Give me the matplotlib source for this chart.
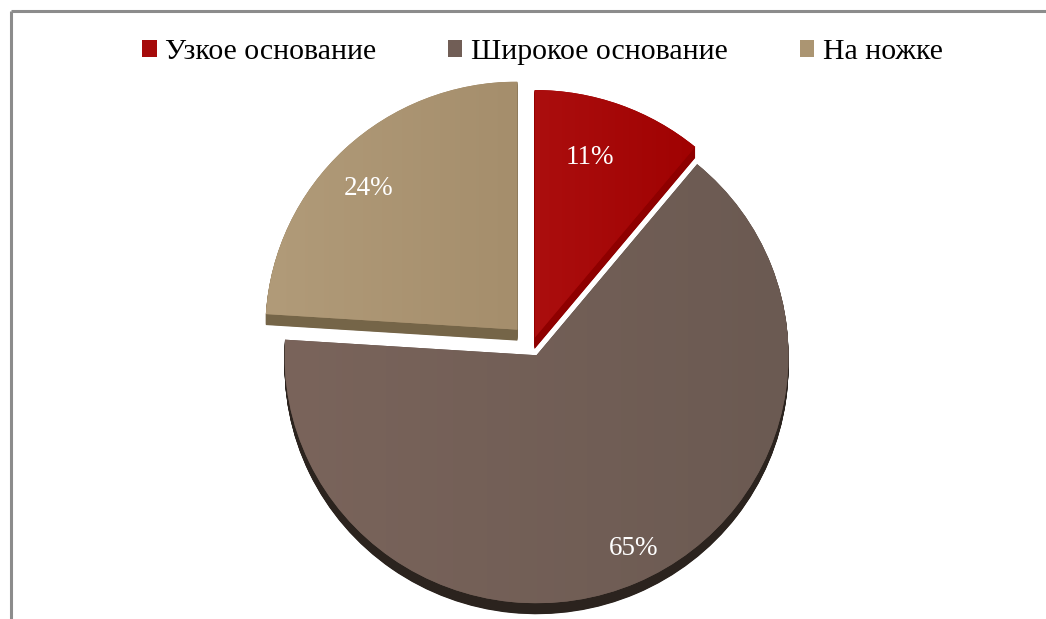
import numpy as np
import matplotlib
matplotlib.use("Agg")
import matplotlib.pyplot as plt
from matplotlib.patches import Wedge, Patch
from matplotlib.transforms import Affine2D
from matplotlib.colors import LinearSegmentedColormap

# Pie data
categories = ["Узкое основание", "Широкое основание", "На ножке"]
shares = [11, 65, 24]
labels = ["11%", "65%", "24%"]

# Face colours (left / right end of the shading) and side wall colours
face_left = ["#ab0e0e", "#7a645b", "#b19b79"]
face_right = ["#a00202", "#6b5a52", "#a58e6c"]
legend_colors = ["#a50a0a", "#715e56", "#ab9572"]
side_colors = ["#8e0000", "#2b231e", "#756548"]
explode = [0.03, 0.045, 0.085]
label_dist = [0.76, 0.87, 0.82]

W, H = 1046, 619
plt.rcParams["font.family"] = ["Liberation Serif", "DejaVu Serif"]

fig = plt.figure(figsize=(W / 100, H / 100), dpi=100)
ax = fig.add_axes([0, 0, 1, 1])

# pixel-space ellipse for the pie: x = cx + rx*u, y = cy - ry*v
cx, cy, rx, ry = 532, 345, 252, 248
depth = 11
base = Affine2D(np.array([[rx, 0, cx], [0, -ry, cy], [0, 0, 1.0]]))

# wedge angles, clockwise from 12 o'clock
angles = 360 * np.array(shares) / np.sum(shares)
ends = 90 - np.concatenate([[0], np.cumsum(angles)[:-1]])
starts = ends - angles
mids = np.radians((starts + ends) / 2)

offsets = []
for i in range(len(shares)):
    dx = explode[i] * np.cos(mids[i])
    dy = explode[i] * np.sin(mids[i])
    offsets.append(Affine2D().translate(dx, dy) + base)

# side walls: stacked copies pushed downwards
for i in range(len(shares)):
    for d in np.arange(depth, 0, -0.5):
        w = Wedge((0, 0), 1, starts[i], ends[i], facecolor=side_colors[i],
                  edgecolor="none",
                  transform=offsets[i] + Affine2D().translate(0, d) + ax.transData)
        ax.add_patch(w)

# top faces with a soft left-to-right shading
grad = np.linspace(0, 1, 256).reshape(1, -1)
for i in range(len(shares)):
    w = Wedge((0, 0), 1, starts[i], ends[i], facecolor=face_right[i],
              edgecolor="none", transform=offsets[i] + ax.transData)
    ax.add_patch(w)
    ext = w.get_path().transformed(offsets[i]).get_extents()
    cmap = LinearSegmentedColormap.from_list("f%d" % i, [face_left[i], face_right[i]])
    im = ax.imshow(grad, cmap=cmap, aspect="auto", interpolation="bilinear",
                   extent=(ext.x0, ext.x1, ext.y1, ext.y0), zorder=1)
    im.set_clip_path(w)

# percentage labels
for i in range(len(shares)):
    a = mids[i] + np.radians(3)
    px, py = offsets[i].transform((label_dist[i] * np.cos(a), label_dist[i] * np.sin(a)))
    ax.text(px, py, labels[i], color="white", fontsize=19.5,
            ha="center", va="center", zorder=3)

# chart area border (top and left edges)
ax.plot([10.5, W], [10.5, 10.5], color="#8c8c8c", lw=2.2, solid_capstyle="butt")
ax.plot([10.5, 10.5], [10.5, H], color="#8c8c8c", lw=2.2, solid_capstyle="butt")

ax.set_xlim(0, W)
ax.set_ylim(H, 0)
ax.axis("off")

handles = [Patch(facecolor=c, edgecolor="none") for c in legend_colors]
fig.legend(handles, categories, loc="center", bbox_to_anchor=(542.5 / W, 1 - 52 / H),
           ncol=3, frameon=False, fontsize=21.5, handlelength=0.47, handleheight=0.47,
           handletextpad=0.3, columnspacing=2.4)

fig.savefig("out.png", dpi=100, facecolor="white")
